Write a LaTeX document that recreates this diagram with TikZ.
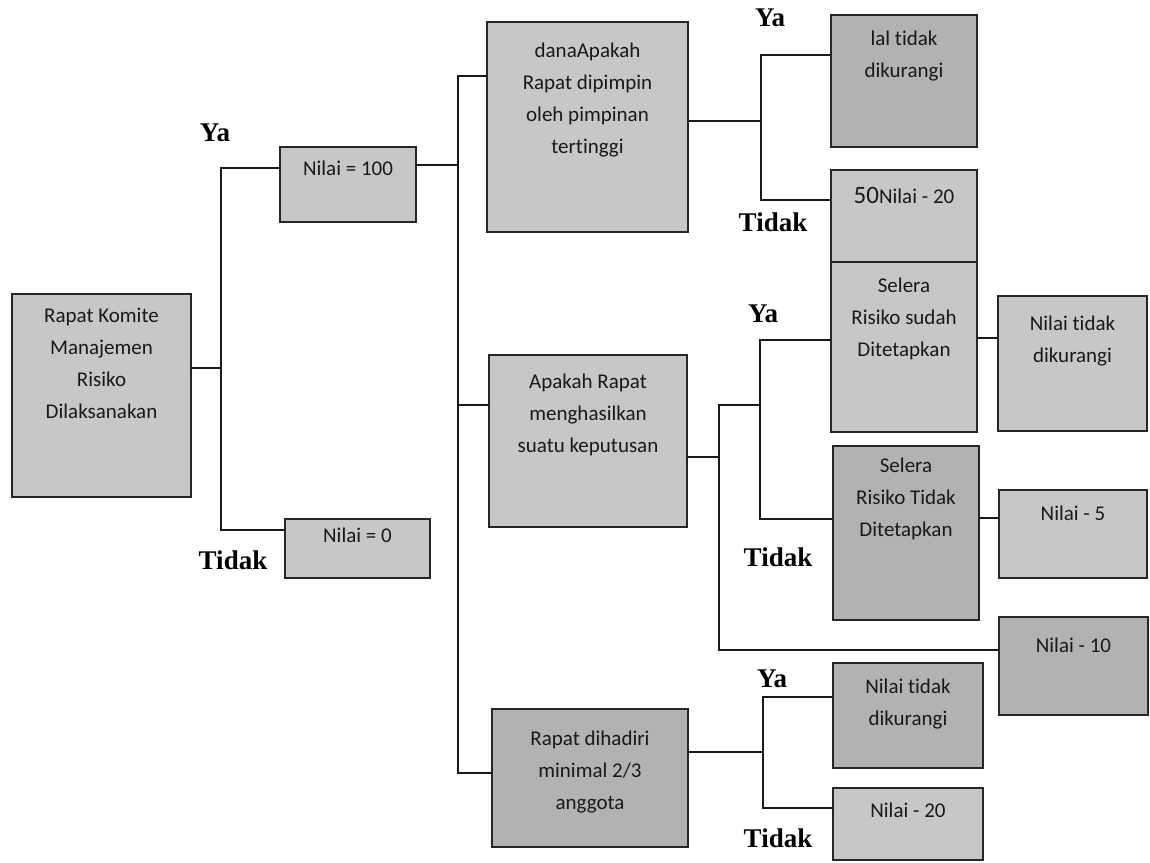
\documentclass[tikz,border=0pt]{standalone}
\usepackage{fontspec}
\setmainfont{Carlito}[Ligatures=NoCommon]
\newfontfamily\lblfont{Liberation Serif}
\usetikzlibrary{positioning, calc}

\begin{document}
\begin{tikzpicture}[x=1pt,y=-1pt,line cap=round,
    box/.style={draw=black!85, line width=1.5pt, fill=black!22, inner sep=0pt},
    dbox/.style={box, fill=black!30},
    txt/.style={inner sep=0pt, align=center, text=black!90, font=\fontsize{21}{32}\selectfont},
    lbl/.style={inner sep=0pt, font=\lblfont\bfseries\fontsize{27}{30}\selectfont},
    conn/.style={line width=1.8pt, black!90}]
                \useasboundingbox (0,0) rectangle (1150,862);

                % kotak
                \node[box, minimum width=179, minimum height=203] (root) at (101.5,395.5) {};
                \node[box, minimum width=136, minimum height=75] (v100) at (348,184.5) {};
                \node[box, minimum width=145, minimum height=59] (v0) at (357.5,548.5) {};
                \node[box, minimum width=201, minimum height=210] (q1) at (587.5,127) {};
                \node[box, minimum width=198, minimum height=172] (q2) at (588,441) {};
                \node[dbox, minimum width=196, minimum height=138] (q3) at (590,778) {};
                \node[dbox, minimum width=146, minimum height=132] (r1a) at (904,81) {};
                \node[box, minimum width=146, minimum height=92] (r1b) at (904,216) {};
                \node[box, minimum width=146, minimum height=170] (s1) at (904,347) {};
                \node[box, minimum width=149, minimum height=135] (s1v) at (1072.5,363.5) {};
                \node[dbox, minimum width=146, minimum height=174] (s2) at (906,533) {};
                \node[box, minimum width=148, minimum height=88] (s2v) at (1073,534) {};
                \node[dbox, minimum width=149, minimum height=98] (v10) at (1073.5,666) {};
                \node[dbox, minimum width=150, minimum height=105] (r3a) at (908,715.5) {};
                \node[box, minimum width=150, minimum height=72] (r3b) at (908,824) {};

                % teks
                \node[txt, below=15pt of root.north] (troot) {Rapat Komite\\Manajemen\\Risiko\\Dilaksanakan};
                \node[txt, below=14pt of v100.north] (tv100) {Nilai = 100};
                \node[txt, below=9pt of v0.north] (tv0) {Nilai = 0};
                \node[txt, below=21pt of q1.north] (tq1) {danaApakah\\Rapat dipimpin\\oleh pimpinan\\tertinggi};
                \node[txt, below=19pt of q2.north] (tq2) {Apakah Rapat\\menghasilkan\\suatu keputusan};
                \node[txt, below=22pt of q3.north] (tq3) {Rapat dihadiri\\minimal 2/3\\anggota};
                \node[txt, below=16pt of r1a.north] (tr1a) {lal tidak\\dikurangi};
                \node[txt, below=18pt of r1b.north] (tr1b) {{\fontsize{25}{32}\selectfont 50}Nilai - 20};
                \node[txt, below=16pt of s1.north] (ts1) {Selera\\Risiko sudah\\Ditetapkan};
                \node[txt, below=20pt of s1v.north] (ts1v) {Nilai tidak\\dikurangi};
                \node[txt, below=12pt of s2.north] (ts2) {Selera\\Risiko Tidak\\Ditetapkan};
                \node[txt, below=16pt of s2v.north] (ts2v) {Nilai - 5};
                \node[txt, below=21pt of v10.north] (tv10) {Nilai - 10};
                \node[txt, below=16pt of r3a.north] (tr3a) {Nilai tidak\\dikurangi};
                \node[txt, below=15pt of r3b.north] (tr3b) {Nilai - 20};

                % garis
                \draw[conn] ([yshift=27.5pt]root.east) -- ++(29,0) coordinate (b0);
                \draw[conn] ([yshift=16.5pt]v100.west) -| (b0) |- ([yshift=18.5pt]v0.west);
                \draw[conn] ([yshift=19.5pt]v100.east) -- ++(41,0) coordinate (b1);
                \draw[conn] ([yshift=51pt]q1.west) -| (b1) |- ([yshift=5pt]q3.west);
                \draw[conn] (b1) |- ([yshift=36pt]q2.west);
                \draw[conn] ([yshift=6pt]q1.east) -- ++(72,0) coordinate (b2);
                \draw[conn] ([yshift=26pt]r1a.west) -| (b2) |- ([yshift=16pt]r1b.west);
                \draw[conn] ([yshift=-16pt]q2.east) -- ++(31,0) coordinate (b3);
                \coordinate (b4) at (760,405);
                \draw[conn] (b3) |- (b4);
                \draw[conn] ([yshift=7pt]s1.west) -| (b4) |- ([yshift=14pt]s2.west);
                \draw[conn] (b3) |- ([yshift=16pt]v10.west);
                \draw[conn] ([yshift=9pt]s1.east) -- ([yshift=9pt]s1.east -| s1v.west);
                \draw[conn] ([yshift=15pt]s2.east) -- ([yshift=15pt]s2.east -| s2v.west);
                \draw[conn] ([yshift=26pt]q3.east) -- ++(74,0) coordinate (b5);
                \draw[conn] ([yshift=18.5pt]r3a.west) -| (b5) |- ([yshift=16pt]r3b.west);

                % label
                \node[lbl] (ya0) at (215,133) {Ya};
                \node[lbl] (td0) at (233,560) {Tidak};
                \node[lbl] (ya1) at (770,18) {Ya};
                \node[lbl] (td1) at (773,222) {Tidak};
                \node[lbl] (ya2) at (763,314) {Ya};
                \node[lbl] (td2) at (778,557) {Tidak};
                \node[lbl] (ya3) at (772,679) {Ya};
                \node[lbl] (td3) at (778,838) {Tidak};
            \end{tikzpicture}
\end{document}
